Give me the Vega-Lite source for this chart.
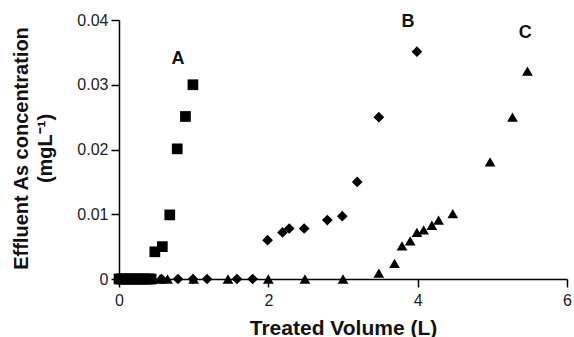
{
  "$schema": "https://vega.github.io/schema/vega-lite/v6.json",
  "width": 448,
  "height": 259,
  "autosize": {"type": "none"},
  "padding": {"left": 119, "top": 20, "right": 7, "bottom": 58},
  "background": "white",
  "config": {
    "view": {"stroke": null},
    "font": "Liberation Sans",
    "axis": {
      "grid": false,
      "domainColor": "black",
      "domainWidth": 1.5,
      "tickColor": "black",
      "tickWidth": 1.5,
      "tickSize": 8,
      "labelFlush": false,
      "labelFont": "Liberation Sans",
      "labelFontSize": 16,
      "labelColor": "#222",
      "titleFont": "Liberation Sans",
      "titleFontWeight": "bold",
      "titleColor": "#111"
    }
  },
  "datasets": {
    "points": [
      {"series": "A", "volume": 0.0, "conc": 0},
      {"series": "A", "volume": 0.03, "conc": 0},
      {"series": "A", "volume": 0.06, "conc": 0},
      {"series": "A", "volume": 0.1, "conc": 0},
      {"series": "A", "volume": 0.13, "conc": 0},
      {"series": "A", "volume": 0.16, "conc": 0},
      {"series": "A", "volume": 0.2, "conc": 0},
      {"series": "A", "volume": 0.23, "conc": 0},
      {"series": "A", "volume": 0.26, "conc": 0},
      {"series": "A", "volume": 0.3, "conc": 0},
      {"series": "A", "volume": 0.33, "conc": 0},
      {"series": "A", "volume": 0.36, "conc": 0},
      {"series": "A", "volume": 0.4, "conc": 0},
      {"series": "A", "volume": 0.43, "conc": 0},
      {"series": "A", "volume": 0.48, "conc": 0.0042},
      {"series": "A", "volume": 0.58, "conc": 0.005},
      {"series": "A", "volume": 0.68, "conc": 0.0099},
      {"series": "A", "volume": 0.78, "conc": 0.0201},
      {"series": "A", "volume": 0.89, "conc": 0.0251},
      {"series": "A", "volume": 0.99, "conc": 0.03},
      {"series": "B", "volume": 0.57, "conc": 0},
      {"series": "B", "volume": 0.79, "conc": 0},
      {"series": "B", "volume": 0.99, "conc": 0},
      {"series": "B", "volume": 1.18, "conc": 0},
      {"series": "B", "volume": 1.58, "conc": 0},
      {"series": "B", "volume": 1.79, "conc": 0},
      {"series": "B", "volume": 1.99, "conc": 0.006},
      {"series": "B", "volume": 2.19, "conc": 0.0072},
      {"series": "B", "volume": 2.28, "conc": 0.0078},
      {"series": "B", "volume": 2.48, "conc": 0.0078},
      {"series": "B", "volume": 2.79, "conc": 0.0091},
      {"series": "B", "volume": 2.99, "conc": 0.0097},
      {"series": "B", "volume": 3.19, "conc": 0.015},
      {"series": "B", "volume": 3.48, "conc": 0.025},
      {"series": "B", "volume": 3.99, "conc": 0.0351},
      {"series": "C", "volume": 0.55, "conc": 0},
      {"series": "C", "volume": 0.65, "conc": 0},
      {"series": "C", "volume": 1.0, "conc": 0},
      {"series": "C", "volume": 1.46, "conc": 0},
      {"series": "C", "volume": 2.0, "conc": 0},
      {"series": "C", "volume": 2.49, "conc": 0},
      {"series": "C", "volume": 3.0, "conc": 0},
      {"series": "C", "volume": 3.48, "conc": 0.0009},
      {"series": "C", "volume": 3.69, "conc": 0.0024},
      {"series": "C", "volume": 3.79, "conc": 0.0051},
      {"series": "C", "volume": 3.9, "conc": 0.0059},
      {"series": "C", "volume": 3.99, "conc": 0.0072},
      {"series": "C", "volume": 4.08, "conc": 0.0076},
      {"series": "C", "volume": 4.19, "conc": 0.0083},
      {"series": "C", "volume": 4.28, "conc": 0.0091},
      {"series": "C", "volume": 4.47, "conc": 0.0101},
      {"series": "C", "volume": 4.97, "conc": 0.0181},
      {"series": "C", "volume": 5.27, "conc": 0.025},
      {"series": "C", "volume": 5.47, "conc": 0.0321}
    ],
    "labels": [
      {"series": "A", "volume": 0.79, "conc": 0.0339},
      {"series": "B", "volume": 3.87, "conc": 0.0397},
      {"series": "C", "volume": 5.44, "conc": 0.038}
    ]
  },
  "layer": [
    {
      "data": {"name": "points"},
      "mark": {"type": "point", "filled": true, "opacity": 1, "color": "black", "size": 115},
      "encoding": {
        "x": {
          "field": "volume",
          "type": "quantitative",
          "scale": {"domain": [0, 6], "nice": false},
          "axis": {
            "values": [0, 2, 4, 6],
            "format": "d",
            "labelPadding": 5,
            "title": "Treated Volume (L)",
            "titleFontSize": 21,
            "titlePadding": 9
          }
        },
        "y": {
          "field": "conc",
          "type": "quantitative",
          "scale": {"domain": [0, 0.04], "nice": false},
          "axis": {
            "values": [0, 0.01, 0.02, 0.03, 0.04],
            "labelExpr": "datum.value === 0 ? '0' : format(datum.value, '.2f')",
            "labelPadding": 3,
            "title": ["Effluent As concentration", "(mgL⁻¹)"],
            "titleFontSize": 20,
            "titleAngle": -90,
            "titleAlign": "center",
            "titleBaseline": "top",
            "titleX": -108,
            "titleY": 128,
            "titleLineHeight": 24
          }
        },
        "shape": {
          "field": "series",
          "type": "nominal",
          "scale": {"domain": ["A", "B", "C"], "range": ["square", "diamond", "triangle-up"]},
          "legend": null
        }
      }
    },
    {
      "data": {"name": "labels"},
      "mark": {"type": "text", "font": "Liberation Sans", "fontSize": 18, "fontWeight": "bold", "color": "#111"},
      "encoding": {
        "x": {"field": "volume", "type": "quantitative"},
        "y": {"field": "conc", "type": "quantitative"},
        "text": {"field": "series"}
      }
    }
  ]
}
